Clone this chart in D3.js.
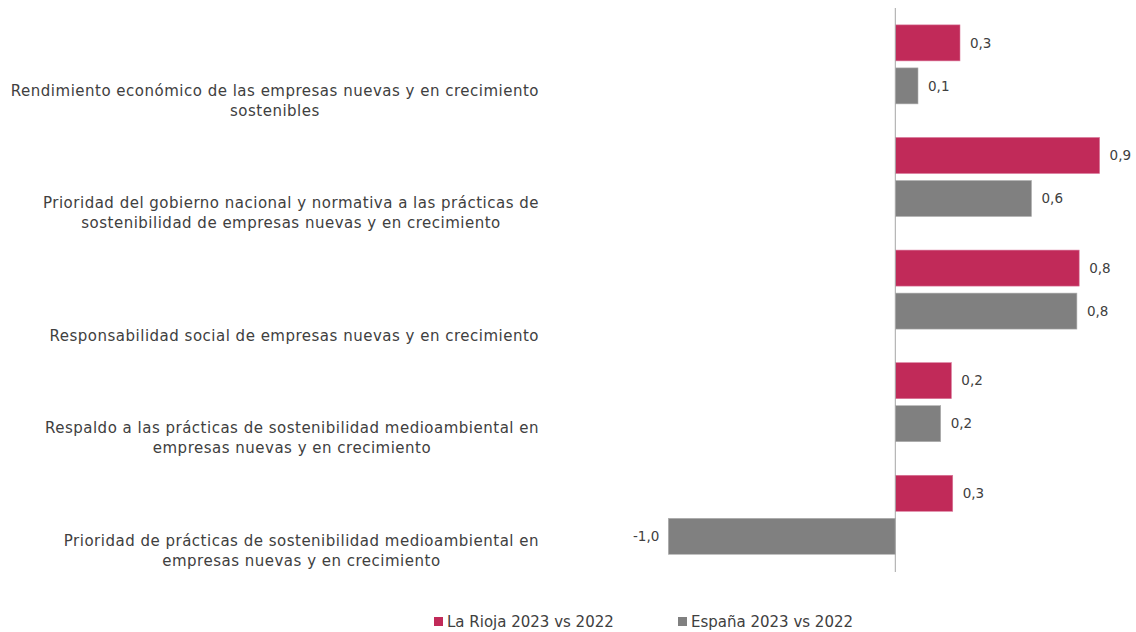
<!DOCTYPE html>
<html><head><meta charset="utf-8">
<script src="https://cdn.jsdelivr.net/npm/d3@7"></script>
<style>
body{margin:0;background:#fff;}
svg text{font-family:"DejaVu Sans",sans-serif;fill:#404040;}
</style></head>
<body><svg id="c" width="1136" height="632"></svg>
<script>
const categories = [
  ["Rendimiento económico de las empresas nuevas y en crecimiento","sostenibles"],
  ["Prioridad del gobierno nacional y normativa a las prácticas de","sostenibilidad de empresas nuevas y en crecimiento"],
  ["Responsabilidad social de empresas nuevas y en crecimiento"],
  ["Respaldo a las prácticas de sostenibilidad medioambiental en","empresas nuevas y en crecimiento"],
  ["Prioridad de prácticas de sostenibilidad medioambiental en","empresas nuevas y en crecimiento"]
];
const seriesNames = ["La Rioja 2023 vs 2022","España 2023 vs 2022"];
const laRioja = [0.285, 0.90, 0.81, 0.247, 0.253];
const espana = [0.10, 0.60, 0.80, 0.20, -1.0];
const colors = ["#C12A59","#808080"];

const svg = d3.select("#c");
const fontSize = 15;
const x = d3.scaleLinear().domain([-1.2, 1]).range([895.3 - 1.2*227, 895.3 + 227]);
const y = d3.scaleBand().domain(d3.range(categories.length)).range([8, 571]).paddingInner(0.3).paddingOuter(0.15);
const yi = d3.scaleBand().domain([0,1]).range([0, 79]).paddingInner(0.163);
const fmt = v => d3.format(".1f")(v).replace(".", ",").replace("−","-");

const data = categories.map((c,i)=>({i, vals:[laRioja[i], espana[i]]}));
const g = svg.append("g");
data.forEach(d=>{
  d.vals.forEach((v,s)=>{
    const y0 = y(d.i) + yi(s);
    g.append("rect")
      .attr("x", x(Math.min(0,v))).attr("y", y0)
      .attr("width", Math.abs(x(v)-x(0))).attr("height", yi.bandwidth())
      .attr("fill", colors[s]).attr("stroke", s===0 ? "#d9779a" : "#b0b0b0").attr("stroke-width", 0.6);
    g.append("text")
      .attr("x", v>=0 ? x(v)+10 : x(v)-9)
      .attr("y", y0 + yi.bandwidth()/2)
      .attr("dy","0.35em")
      .attr("text-anchor", v>=0 ? "start" : "end")
      .style("font-size","13.5px")
      .text(fmt(v));
  });
});

// zero axis
svg.append("line").attr("x1", x(0)).attr("x2", x(0)).attr("y1", 8).attr("y2", 572)
  .attr("stroke","#a6a6a6").attr("stroke-width",1);

// category labels
const labG = svg.append("g");
categories.forEach((lines,i)=>{
  const t = labG.append("text").style("font-size", fontSize+"px").style("letter-spacing","0.5px").attr("text-anchor","middle");
  const lastY = y(i) + y.bandwidth()/2 + 46;
  lines.forEach((ln,k)=>{
    t.append("tspan").attr("y", lastY - (lines.length-1-k)*20).attr("dy","0.35em").text(ln);
  });
  let maxW = 0;
  t.selectAll("tspan").each(function(){ maxW = Math.max(maxW, this.getComputedTextLength()); });
  t.selectAll("tspan").attr("x", 539 - maxW/2);
});

// legend
const leg = svg.append("g");
const legX = [434, 678];
seriesNames.forEach((n,s)=>{
  leg.append("rect").attr("x", legX[s]).attr("y", 617).attr("width", 9).attr("height", 9).attr("fill", colors[s]);
  leg.append("text").attr("x", legX[s]+13).attr("y", 622).attr("dy","0.35em").style("font-size","15px").text(n);
});
</script></body></html>
